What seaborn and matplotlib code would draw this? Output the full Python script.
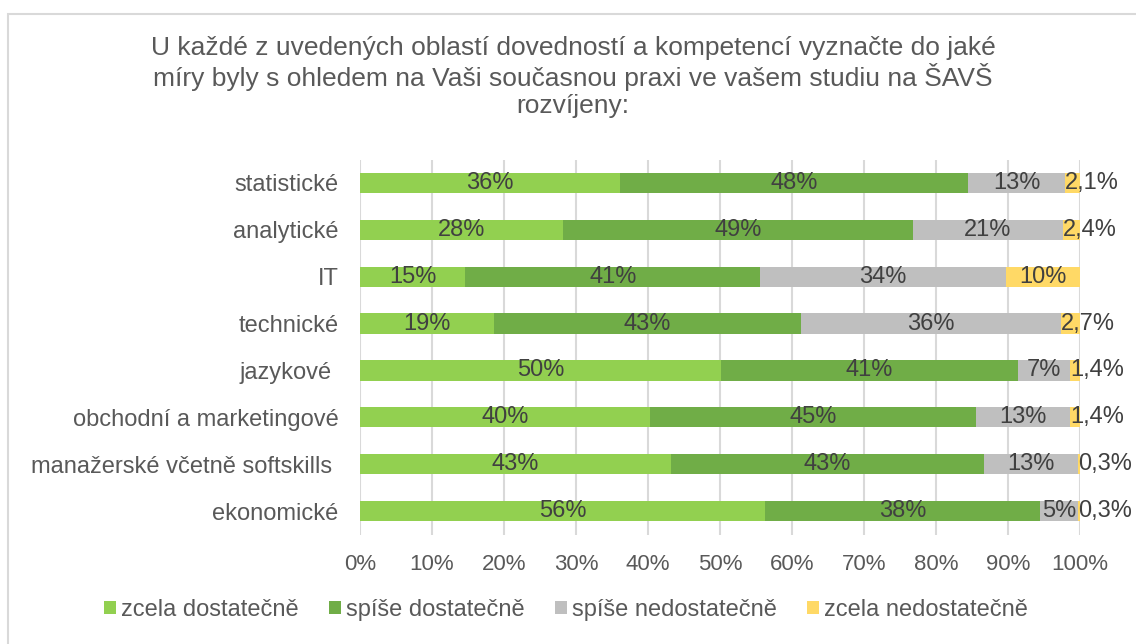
import matplotlib
matplotlib.use("Agg")
import matplotlib.pyplot as plt
from matplotlib.patches import Patch, Rectangle
import seaborn as sns
import pandas as pd
import numpy as np

categories = ["statistické", "analytické", "IT", "technické", "jazykové ",
              "obchodní a marketingové", "manažerské včetně softskills ", "ekonomické"]
series_names = ["zcela dostatečně", "spíše dostatečně", "spíše nedostatečně", "zcela nedostatečně"]
zcela_dost = [36.1, 28.2, 14.6, 18.6, 50.1, 40.3, 43.2, 56.3]
spise_dost = [48.4, 48.6, 41.0, 42.6, 41.3, 45.2, 43.4, 38.1]
spise_nedost = [13.4, 20.8, 34.1, 36.1, 7.2, 13.1, 13.1, 5.3]
zcela_nedost = [2.1, 2.4, 10.3, 2.7, 1.4, 1.4, 0.3, 0.3]
xticks = [0, 10, 20, 30, 40, 50, 60, 70, 80, 90, 100]
title = ("U každé z uvedených oblastí dovedností a kompetencí vyznačte do jaké\n"
         "míry byly s ohledem na Vaši současnou praxi ve vašem studiu na ŠAVŠ\n"
         "rozvíjeny:")

colors = ["#92D050", "#70AD47", "#BFBFBF", "#FFD966"]
text_gray = "#595959"
label_gray = "#404040"

sns.set_theme(style="white")
plt.rcParams["font.family"] = ["Liberation Sans", "DejaVu Sans"]

series = [zcela_dost, spise_dost, spise_nedost, zcela_nedost]
df = pd.DataFrame({"kat": categories})
cum = np.zeros(len(categories))
cums = []
for name, vals in zip(series_names, series):
    starts = cum.copy()
    cum = cum + np.array(vals)
    df[name] = cum
    cums.append((starts, cum.copy()))

fig = plt.figure(figsize=(11.36, 6.44), dpi=100)
ax = fig.add_axes([360/1136, 1 - 534.5/644, 720/1136, (534.5 - 159.5)/644])

for i in reversed(range(4)):
    sns.barplot(data=df, x=series_names[i], y="kat", order=categories,
                color=colors[i], saturation=1, width=0.43, orient="h",
                ax=ax, zorder=3, linewidth=0)

ax.set_xlim(0, 100)
ax.set_xticks(xticks)
ax.set_xticklabels([f"{t}%" for t in xticks], color=text_gray, fontsize=16)
ax.tick_params(axis="x", length=0, pad=14)
ax.tick_params(axis="y", length=0, pad=15.5, labelsize=17, labelcolor=text_gray)
ax.set_xlabel("")
ax.set_ylabel("")
for s in ax.spines.values():
    s.set_visible(False)
ax.xaxis.grid(True, color="#D9D9D9", linewidth=1.5, zorder=0)
ax.set_axisbelow(True)

# data labels
for si, vals in enumerate(series):
    starts, ends = cums[si]
    for ci, v in enumerate(vals):
        if si == 3 and v < 5:
            txt = f"{v:.1f}".replace(".", ",") + "%"
            ax.text(starts[ci], ci, txt, ha="left", va="center", fontsize=17,
                    color=label_gray, zorder=5, clip_on=False)
        else:
            txt = f"{v:.0f}%"
            ax.text((starts[ci] + ends[ci]) / 2, ci, txt, ha="center", va="center",
                    fontsize=17, color=label_gray, zorder=5, clip_on=False)

fig.text(573/1136, 1 - 77/644, title, ha="center", va="center", fontsize=19,
         color=text_gray, linespacing=1.15)

handles = [Patch(facecolor=c, edgecolor="none") for c in colors]
fig.legend(handles, series_names, loc="center", bbox_to_anchor=(566/1136, 1 - 610/644),
           ncol=4, frameon=False, fontsize=17, handlelength=0.5, handleheight=0.5,
           handletextpad=0.2, columnspacing=1.3, labelcolor=text_gray)

fig.patches.append(Rectangle((8/1136, -0.1), 2.0, 1.1 - 14/644, transform=fig.transFigure,
                             fill=False, edgecolor="#D9D9D9", linewidth=1.5, figure=fig))

fig.savefig("out.png", dpi=100)
